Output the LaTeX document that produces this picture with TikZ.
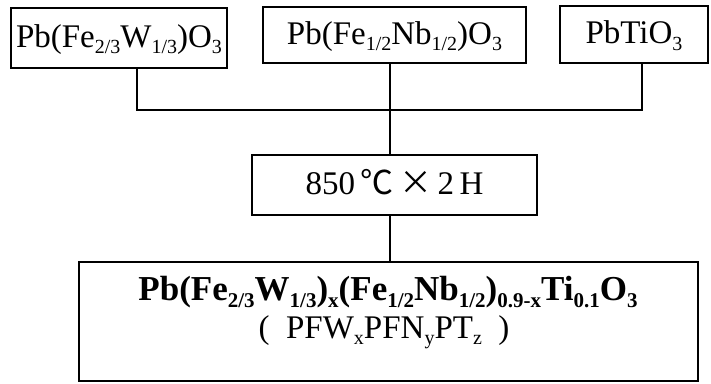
\documentclass[tikz,border=0pt]{standalone}
\usepackage{fontspec}
\setmainfont{Liberation Serif}
\newfontfamily\cjk{Noto Sans CJK SC}
% lowered, smaller index text for chemical formulae
\newcommand\lowidx[1]{{\raisebox{-0.2em}{\fontsize{20}{20}\selectfont #1}}}
\newcommand\lowidxb[1]{{\raisebox{-0.2em}{\fontsize{21}{21}\selectfont\bfseries #1}}}
\begin{document}
\begin{tikzpicture}[x=1pt,y=-1pt,
  box/.style={draw, line width=1.8pt, inner sep=0pt,
    text height=25pt, text depth=7pt,
    font=\fontsize{33}{36}\selectfont},
  link/.style={line width=1.5pt}]
\useasboundingbox (0,0) rectangle (711,383);
% raw materials
\node[box, minimum width=216, minimum height=60] (pfw) at (119,38)
  {Pb(Fe\lowidx{2/3}W\lowidx{1/3})O\lowidx{3}};
\node[box, minimum width=263, minimum height=56] (pfn) at (394.5,35)
  {Pb(Fe\lowidx{1/2}Nb\lowidx{1/2})O\lowidx{3}};
\node[box, minimum width=148, minimum height=57] (pt) at (634,34.5)
  {PbTiO\lowidx{3}};
% calcination step
\node[box, minimum width=285, minimum height=60] (calc) at (394.5,185)
  {850\,{\cjk ℃}\,{\cjk ×}\,2\,H};
% product
\node[draw, line width=1.8pt, minimum width=619, minimum height=119, inner sep=0pt] (prod) at (388.5,321.5) {};
\node[anchor=base, inner sep=0pt, font=\fontsize{35}{36}\selectfont\bfseries] (f1) at (388,300)
  {Pb(Fe\lowidxb{2/3}W\lowidxb{1/3})\lowidxb{x}(Fe\lowidxb{1/2}Nb\lowidxb{1/2})\lowidxb{0.9-x}Ti\lowidxb{0.1}O\lowidxb{3}};
\node[anchor=base, inner sep=0pt, font=\fontsize{33}{36}\selectfont] (f2) at (384,338)
  {(\enspace PFW\lowidx{x}PFN\lowidx{y}PT\lowidx{z}\enspace)};
% connectors
\coordinate (jl) at (137,110);
\coordinate (jr) at (642,110);
\coordinate (mid) at (390,110);
\draw[link] (pfw.south -| jl) -- (jl) -- (jr) -- (pt.south -| jr);
\draw[link] (pfn.south -| mid) -- (calc.north -| mid);
\draw[link] (calc.south -| mid) -- (prod.north -| mid);
\end{tikzpicture}
\end{document}
